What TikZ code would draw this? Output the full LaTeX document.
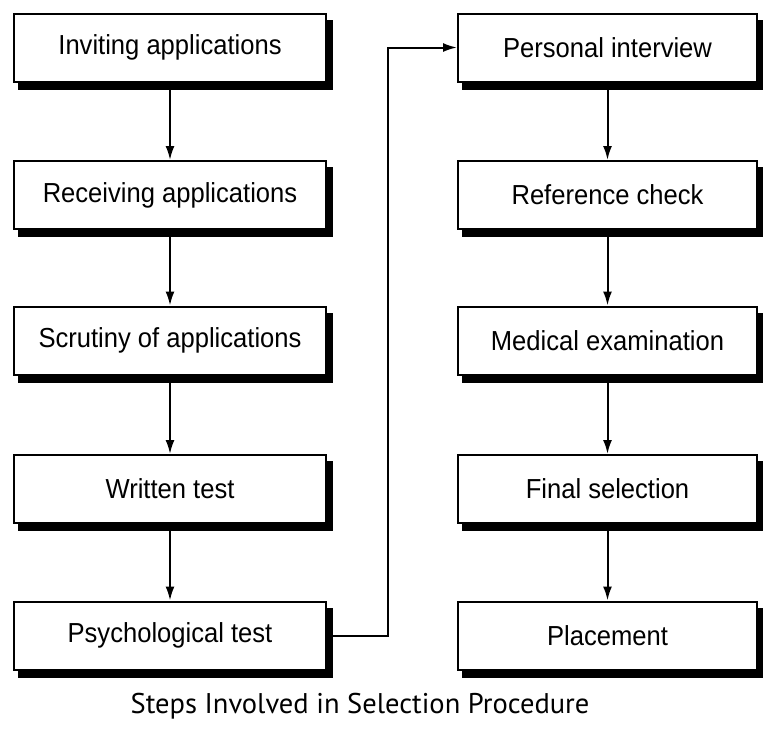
\documentclass[tikz,border=0pt]{standalone}
\usepackage{fontspec}
\setmainfont{Liberation Sans}
\newfontfamily\capfont{PT Sans}
\usetikzlibrary{arrows.meta}
\newcommand{\boxtext}[1]{\scalebox{0.93}[1]{#1}}
\begin{document}
\begin{tikzpicture}[x=1pt,y=-1pt,
  stepbox/.style={draw=black, line width=2pt, fill=white, minimum height=68pt,
    inner sep=0pt, font=\fontsize{27.5}{30}\selectfont},
  leftbox/.style={stepbox, minimum width=312pt},
  rightbox/.style={stepbox, minimum width=299pt},
  shadowfill/.style={fill=black},
  conn/.style={line width=2pt, -{Latex[length=14pt,width=9pt]}}]
\useasboundingbox (0,0) rectangle (763,742);
\node[leftbox] (a1) at (170,47.5) {\boxtext{Inviting applications}};
\node[leftbox] (a2) at (170,195) {\boxtext{Receiving applications}};
\node[leftbox] (a3) at (170,340.5) {\boxtext{Scrutiny of applications}};
\node[leftbox] (a4) at (170,489) {\boxtext{Written test}};
\node[leftbox] (a5) at (170,635.5) {\boxtext{Psychological test}};
\node[rightbox] (b1) at (607.5,47.5) {\boxtext{Personal interview}};
\node[rightbox] (b2) at (607.5,195) {\boxtext{Reference check}};
\node[rightbox] (b3) at (607.5,340.5) {\boxtext{Medical examination}};
\node[rightbox] (b4) at (607.5,489) {\boxtext{Final selection}};
\node[rightbox] (b5) at (607.5,635.5) {\boxtext{Placement}};
\foreach \n in {a1,a2,a3,a4,a5,b1,b2,b3,b4,b5} {
  \fill[shadowfill] ([shift={(5,0)}]\n.south west) rectangle ([shift={(6,7)}]\n.south east);
  \fill[shadowfill] ([shift={(0,7)}]\n.north east) rectangle ([shift={(6,7)}]\n.south east);
}
\foreach \u/\v in {a1/a2,a2/a3,a3/a4,a4/a5,b1/b2,b2/b3,b3/b4,b4/b5}
  \draw[conn] (\u.south) ++(0,7) -- (\v.north);
\coordinate (k1) at (388,635.5);
\coordinate (k2) at (388,47.5);
\draw[conn] ([xshift=6pt]a5.east) -- (k1) -- (k2) -- (b1.west);
\node[font=\capfont\fontsize{28.5}{31}\selectfont] (cap) at (360,706) {Steps Involved in Selection Procedure};
\end{tikzpicture}
\end{document}
